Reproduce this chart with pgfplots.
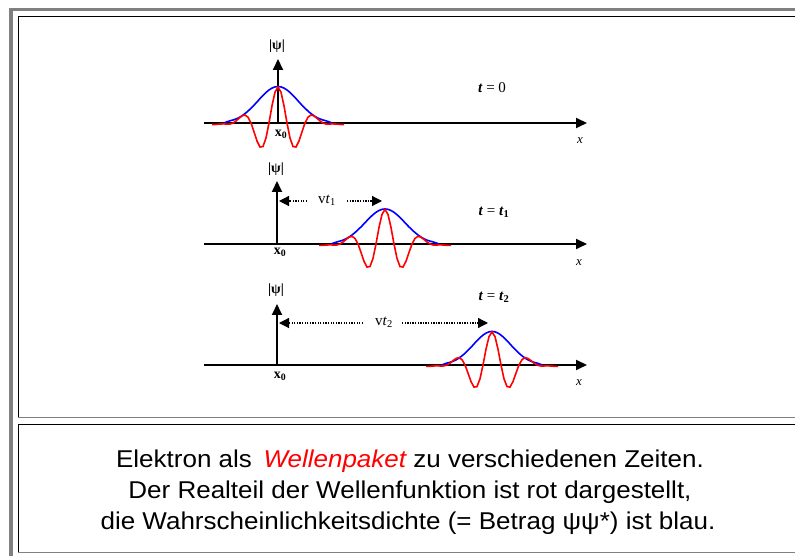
\documentclass[border=0pt]{standalone}
\usepackage{fontspec}
\setmainfont{Liberation Serif}
\newfontfamily\arial{Liberation Sans}
\usepackage{pgfplots}
\usepackage{pgfplotstable}
\pgfplotsset{compat=1.18}
\usetikzlibrary{arrows.meta}
\definecolor{fgray}{RGB}{128,128,128}
\definecolor{pblue}{RGB}{0,0,255}
\definecolor{pred}{RGB}{255,0,0}

% envelope |psi| (blue), x relative to packet centre, y above baseline (px)
\pgfplotstableread{
x b
-54 0
-51 1.2
-48 2.2
-45 3.0
-42 4.0
-39 5.4
-36 7.2
-33 9.4
-30 11.9
-27 14.8
-24 17.8
-21 21.0
-18 24.4
-15 27.6
-12 30.5
-9 33.0
-6 34.9
-3 36.1
0 36.5
3 36.1
6 34.9
9 33.0
12 30.5
15 27.6
18 24.4
21 21.0
24 17.8
27 14.8
30 11.9
33 9.4
36 7.2
39 5.4
42 4.0
45 3.0
48 2.2
51 1.2
54 0
}\blueenv

% real part (red)
\pgfplotstableread{
x r
-66 -1.5
-63 -1.5
-60 -1.2
-57 -1.0
-54 -0.9
-51 -1.2
-48 -1.0
-45 0
-42 2.0
-39 4.7
-36 7.1
-33 8.0
-30 5.8
-27 0
-24 -8.8
-21 -18.0
-18 -24.0
-15 -23.5
-12 -15.0
-9 0
-6 17.2
-3 30.8
0 36
3 30.8
6 17.2
9 0
12 -15.0
15 -23.5
18 -24.0
21 -18.0
24 -8.8
27 0
30 5.8
33 8.0
36 7.1
39 4.7
42 2.0
45 0
48 -1.0
51 -1.2
54 -0.9
57 -1.0
60 -1.2
63 -1.5
66 -1.5
}\redwave

\begin{document}
\begin{tikzpicture}
\useasboundingbox (0,0) rectangle (795pt,556pt);
\begin{axis}[x=1pt,y=1pt,xmin=0,xmax=795,ymin=0,ymax=556,hide axis,clip=false,
  scale only axis,at={(0,0)},anchor=south west]
% ---- frames
\fill[fgray] (9,548) rectangle (795,544.5);
\fill[fgray] (9,548) rectangle (12.5,0);
\draw[black,line width=1pt] (18.5,138) -- (18.5,539.5) -- (795,539.5);
\draw[fgray,line width=1pt] (18,138) -- (795,138);
\draw[black,line width=1pt] (18.5,3) -- (18.5,131.5) -- (795,131.5);
\draw[fgray,line width=1pt] (18,3) -- (795,3);

\tikzset{ax/.style={line width=1.8pt,-{Triangle[length=11pt,width=10pt]}},
  dot/.style={line width=1.2pt,dash pattern=on 1.3pt off 1.3pt,-{Triangle[length=10pt,width=10pt]}}}

% ---- panel 1 (t = 0)
\draw[ax] (204,433) -- (587,433);
\draw[ax] (278,433) -- (278,497);
\addplot[pblue,line width=1.6pt,no marks] table[x expr=\thisrow{x}+278,y expr=\thisrow{b}+433] {\blueenv};
\addplot[pred,line width=1.6pt,no marks] table[x expr=\thisrow{x}+278,y expr=\thisrow{r}+433] {\redwave};
\node[font=\fontsize{14}{16}\selectfont\bfseries] at (277,510) {|ψ|};
\node[font=\fontsize{14}{16}\selectfont\bfseries] at (281,422) {x\textsubscript{0}};
\node[font=\fontsize{13}{15}\selectfont\itshape] at (580,415) {x};
\node[font=\fontsize{15}{17}\selectfont] at (492,468) {\textbf{\textit{t}} = 0};

% ---- panel 2 (t = t1)
\draw[ax] (204,312) -- (587,312);
\draw[ax] (277,312) -- (277,375);
\addplot[pblue,line width=1.6pt,no marks] table[x expr=\thisrow{x}+385,y expr=0.96*\thisrow{b}+312] {\blueenv};
\addplot[pred,line width=1.6pt,no marks] table[x expr=\thisrow{x}+385,y expr=0.96*\thisrow{r}+312] {\redwave};
\node[font=\fontsize{14}{16}\selectfont\bfseries] at (276,387) {|ψ|};
\node[font=\fontsize{14}{16}\selectfont\bfseries] at (280,304) {x\textsubscript{0}};
\node[font=\fontsize{13}{15}\selectfont\itshape] at (579,293) {x};
\node[font=\fontsize{15}{17}\selectfont] at (494,344) {\textbf{\textit{t}} = \textbf{\textit{t}\textsubscript{1}}};
\draw[dot] (307,355) -- (279,355);
\draw[dot] (347,355) -- (382,355);
\node[font=\fontsize{15}{17}\selectfont] at (327,356) {v\textit{t}\textsubscript{1}};

% ---- panel 3 (t = t2)
\draw[ax] (204,191) -- (587,191);
\draw[ax] (277,191) -- (277,252);
\addplot[pblue,line width=1.6pt,no marks] table[x expr=0.93*\thisrow{x}+492,y expr=0.92*\thisrow{b}+191] {\blueenv};
\addplot[pred,line width=1.6pt,no marks] table[x expr=\thisrow{x}+492,y expr=0.92*\thisrow{r}+191] {\redwave};
\node[font=\fontsize{14}{16}\selectfont\bfseries] at (276,266) {|ψ|};
\node[font=\fontsize{14}{16}\selectfont\bfseries] at (280,180) {x\textsubscript{0}};
\node[font=\fontsize{13}{15}\selectfont\itshape] at (579,173) {x};
\node[font=\fontsize{15}{17}\selectfont] at (494,259) {\textbf{\textit{t}} = \textbf{\textit{t}\textsubscript{2}}};
\draw[dot] (363,233) -- (279,233);
\draw[dot] (402,233) -- (488,233);
\node[font=\fontsize{15}{17}\selectfont] at (384,234) {v\textit{t}\textsubscript{2}};

% ---- caption
\node[anchor=base,font=\arial\fontsize{24.3}{29}\selectfont] at (410,88) {\scalebox{1.07}[1]{Elektron als\, \textcolor{pred}{\itshape Wellenpaket} zu verschiedenen Zeiten.}};
\node[anchor=base,font=\arial\fontsize{24.3}{29}\selectfont] at (410,57) {\scalebox{1.07}[1]{Der Realteil der Wellenfunktion ist rot dargestellt,}};
\node[anchor=base,font=\arial\fontsize{24.3}{29}\selectfont] at (408,26) {\scalebox{1.07}[1]{die Wahrscheinlichkeitsdichte (= Betrag ψψ*) ist blau.}};
\end{axis}
\end{tikzpicture}
\end{document}
